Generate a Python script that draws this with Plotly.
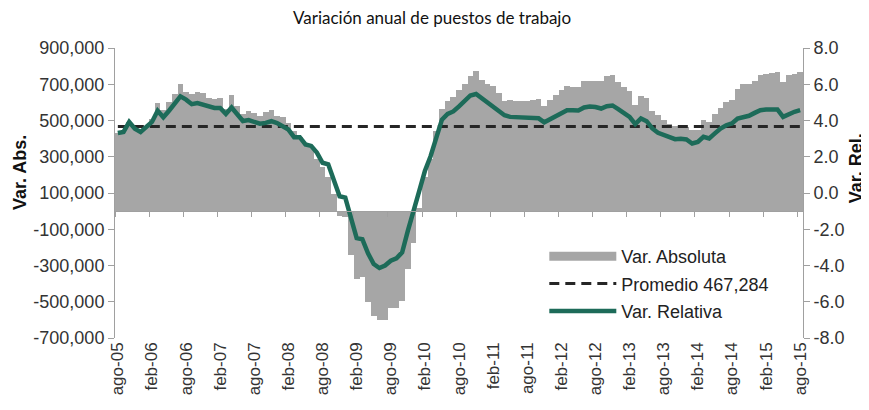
import plotly.graph_objects as go

# monthly series, ago-05 .. ago-15
meses = ["ene", "feb", "mar", "abr", "may", "jun", "jul", "ago", "sep", "oct", "nov", "dic"]
categorias = [f"{meses[(7 + i) % 12]}-{5 + (7 + i) // 12:02d}" for i in range(121)]

var_absoluta = [
    430000, 440000, 490000, 460000, 440000, 470000, 510000, 597000, 560000, 600000,
    645000, 702000, 660000, 648000, 660000, 652000, 622000, 620000, 625000, 565000,
    638000, 580000, 535000, 550000, 540000, 525000, 545000, 560000, 525000, 518000,
    488000, 442000, 410000, 372000, 355000, 290000, 241000, 190000, 95000, -25000,
    -30000, -240000, -373000, -362000, -501000, -580000, -598000, -598000, -537000, -537000,
    -494000, -318000, -174000, 15000, 190000, 290000, 440000, 561000, 607000, 630000,
    666000, 702000, 745000, 772000, 726000, 702000, 690000, 653000, 607000, 614000,
    607000, 607000, 607000, 614000, 618000, 582000, 612000, 643000, 670000, 692000,
    685000, 685000, 718000, 718000, 718000, 718000, 744000, 749000, 712000, 685000,
    661000, 588000, 634000, 624000, 553000, 529000, 501000, 483000, 470000, 465000,
    465000, 446000, 446000, 501000, 492000, 538000, 571000, 602000, 612000, 676000,
    700000, 703000, 718000, 753000, 758000, 762000, 768000, 712000, 749000, 758000,
    768000,
]

var_relativa = [
    3.31, 3.37, 3.92, 3.55, 3.37, 3.68, 3.92, 4.54, 4.18, 4.54,
    4.96, 5.33, 5.15, 4.90, 4.96, 4.87, 4.78, 4.69, 4.69, 4.36,
    4.72, 4.34, 3.97, 4.02, 3.94, 3.82, 3.87, 3.96, 3.86, 3.71,
    3.50, 3.08, 3.08, 2.68, 2.60, 2.23, 1.67, 1.58, 0.75, -0.18,
    -0.25, -1.36, -2.49, -2.55, -3.33, -3.92, -4.14, -4.00, -3.74, -3.60,
    -3.28, -2.09, -1.08, 0.11, 1.21, 2.03, 3.04, 4.05, 4.36, 4.50,
    4.78, 5.05, 5.38, 5.46, 5.24, 5.00, 4.78, 4.54, 4.29, 4.20,
    4.18, 4.18, 4.16, 4.16, 4.12, 3.90, 4.08, 4.28, 4.42, 4.57,
    4.57, 4.55, 4.72, 4.77, 4.74, 4.66, 4.79, 4.83, 4.63, 4.44,
    4.20, 3.80, 4.11, 3.96, 3.56, 3.32, 3.19, 3.04, 2.97, 2.99,
    2.95, 2.73, 2.82, 3.10, 3.01, 3.29, 3.56, 3.74, 3.84, 4.11,
    4.20, 4.26, 4.42, 4.57, 4.61, 4.61, 4.61, 4.20, 4.35, 4.48,
    4.57,
]

promedio = 467284

y_izq_vals = [-700000, -500000, -300000, -100000, 100000, 300000, 500000, 700000, 900000]
y_izq_text = ["-700,000", "-500,000", "-300,000", "-100,000", "100,000",
              "300,000", "500,000", "700,000", "900,000"]
y_der_vals = [-8, -6, -4, -2, 0, 2, 4, 6, 8]
y_der_text = ["-8.0", "-6.0", "-4.0", "-2.0", "0.0", "2.0", "4.0", "6.0", "8.0"]

x = list(range(len(categorias)))
x_tick_vals = x[::6]
x_tick_text = categorias[::6]

GRIS = "#a6a6a6"
VERDE = "#1d6b59"
EJE = "#a0a0a0"
FUENTE = "Liberation Sans, Arial, sans-serif"

fig = go.Figure()

fig.add_trace(go.Bar(x=x, y=var_absoluta, marker=dict(color=GRIS, line_width=0),
                     showlegend=False, hovertext=categorias, name="Var. Absoluta"))
# legend stand-in for the bars (wide grey band)
fig.add_trace(go.Scatter(x=[None], y=[None], mode="lines", name="Var. Absoluta",
                         line=dict(color=GRIS, width=9), legendgroup="a"))
fig.add_trace(go.Scatter(x=x, y=[promedio] * len(x), mode="lines",
                         name="Promedio 467,284", legendgroup="b",
                         line=dict(color="#262626", width=3, dash="10px,6px")))
fig.add_trace(go.Scatter(x=x, y=var_relativa, mode="lines", name="Var. Relativa",
                         legendgroup="c", yaxis="y2", hovertext=categorias,
                         line=dict(color=VERDE, width=4.5)))
# empty trace so the label-only x axis gets drawn
fig.add_trace(go.Scatter(x=[None], y=[None], xaxis="x2", showlegend=False,
                         hoverinfo="skip"))

rango_x = [-0.5, len(x) - 0.5]

# the page body has an 8px margin, so margins are shifted by 8px
fig.update_layout(
    width=869, height=410,
    margin=dict(l=107, r=74, t=40, b=80),
    plot_bgcolor="white", paper_bgcolor="white",
    bargap=0,
    title=dict(text="Variación anual de puestos de trabajo", x=0.488, xanchor="center",
               y=1.0, yanchor="top", yref="container", pad=dict(t=4, b=0),
               font=dict(family="Lato, Carlito, sans-serif", size=17, color="#111")),
    font=dict(family=FUENTE, size=18, color="#333"),
    xaxis=dict(range=rango_x, anchor="free", position=0.4375, showline=True,
               linecolor=EJE, linewidth=1, showticklabels=False, ticks="",
               showgrid=False, zeroline=False,
               minor=dict(tick0=-0.5, dtick=6, ticks="outside", ticklen=5,
                          tickcolor=EJE, showgrid=False)),
    xaxis2=dict(range=rango_x, overlaying="x", anchor="y", side="bottom",
                showline=False, ticks="", showgrid=False, zeroline=False,
                tickmode="array", tickvals=x_tick_vals, ticktext=x_tick_text,
                tickangle=-90, tickfont=dict(size=17, color="#333")),
    yaxis=dict(range=[-700000, 900000], tickmode="array", tickvals=y_izq_vals,
               ticktext=y_izq_text, showline=True, linecolor=EJE, ticks="outside",
               ticklen=6, tickcolor=EJE, showgrid=False, zeroline=False),
    yaxis2=dict(range=[-8, 8], overlaying="y", side="right", anchor="x",
                tickmode="array", tickvals=y_der_vals, ticktext=y_der_text,
                showline=True, linecolor=EJE, ticks="outside", ticklen=6,
                tickcolor=EJE, showgrid=False, zeroline=False),
    legend=dict(x=0.624, y=0.345, xanchor="left", yanchor="top",
                bgcolor="rgba(0,0,0,0)", itemwidth=67, tracegroupgap=1,
                traceorder="grouped", font=dict(size=18, color="#222")),
    annotations=[
        dict(text="<b>Var. Abs.</b>", xref="paper", yref="paper", x=-0.139, y=0.57,
             xanchor="center", yanchor="middle", textangle=-90, showarrow=False,
             font=dict(size=18, color="#111")),
        dict(text="<b>Var. Rel.</b>", xref="paper", yref="paper", x=1.077, y=0.585,
             xanchor="center", yanchor="middle", textangle=-90, showarrow=False,
             font=dict(size=18, color="#111")),
    ],
)

fig.write_html("out.html")
